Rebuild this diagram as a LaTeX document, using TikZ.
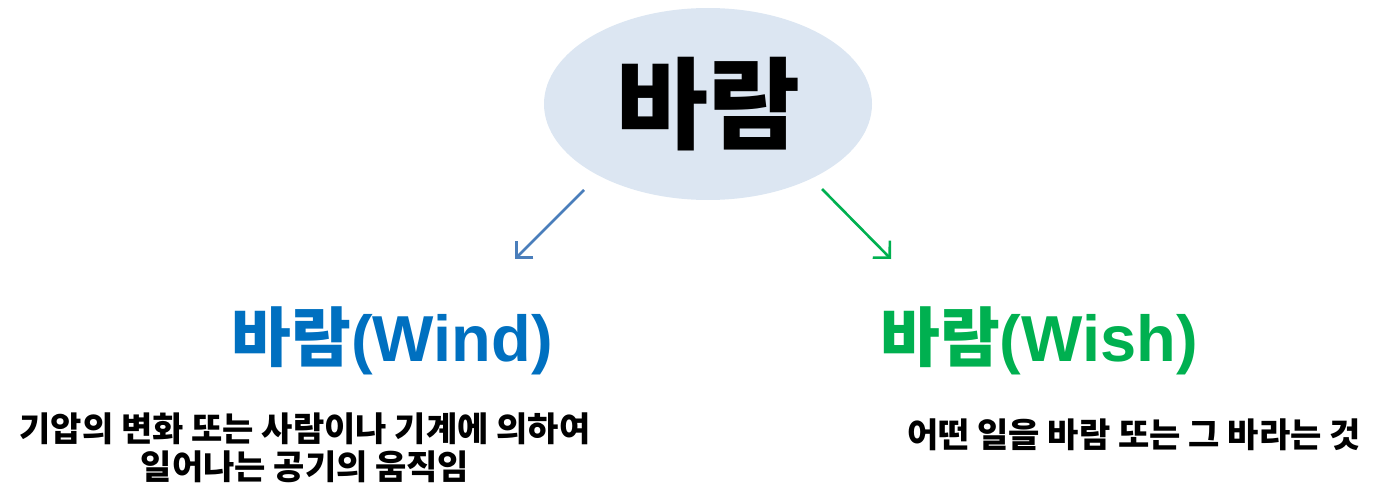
\documentclass[tikz,border=0pt]{standalone}
\usepackage{fontspec}
\setsansfont{Liberation Sans}
\newfontfamily\cjk{Noto Sans CJK KR}
\usetikzlibrary{arrows.meta,shapes.geometric}
\definecolor{ellfill}{HTML}{DCE6F2}
\definecolor{windblue}{HTML}{0070C0}
\definecolor{arrblue}{HTML}{4A7EBB}
\definecolor{wishgreen}{HTML}{00B050}
\tikzset{
  conn/.style={line width=2.6pt,-{Straight Barb[length=12pt,width=24pt,line width=2.6pt]}},
  title/.style={font=\cjk\bfseries\fontsize{65}{72}\selectfont,inner sep=0pt},
  desc/.style={font=\cjk\bfseries\fontsize{34}{38}\selectfont,inner sep=0pt,align=center}
}
\begin{document}
\begin{tikzpicture}[x=1pt,y=-1pt]
\useasboundingbox (0,0) rectangle (1373,487);
\node[ellipse,fill=ellfill,minimum width=328pt,minimum height=192pt,inner sep=0pt] (root) at (708,104) {};
\node[font=\cjk\bfseries\fontsize{100}{110}\selectfont,inner sep=0pt] (roottxt) at (708,104) {바람};
\coordinate (ws) at (584,190);
\coordinate (we) at (515,259);
\coordinate (gs) at (822,189);
\coordinate (ge) at (891,259);
\draw[conn,arrblue] (ws) -- (we);
\draw[conn,wishgreen] (gs) -- (ge);
\node[title,text=windblue] (wind) at (392,341) {바람{\sffamily\bfseries (Wind)}};
\node[title,text=wishgreen] (wish) at (1039,341) {바람{\sffamily\bfseries (Wish)}};
\node[desc] (wdesc) at (305,448) {기압의 변화 또는 사람이나 기계에 의하여\\일어나는 공기의 움직임};
\node[desc] (hdesc) at (1134,435) {어떤 일을 바람 또는 그 바라는 것};
\end{tikzpicture}
\end{document}
